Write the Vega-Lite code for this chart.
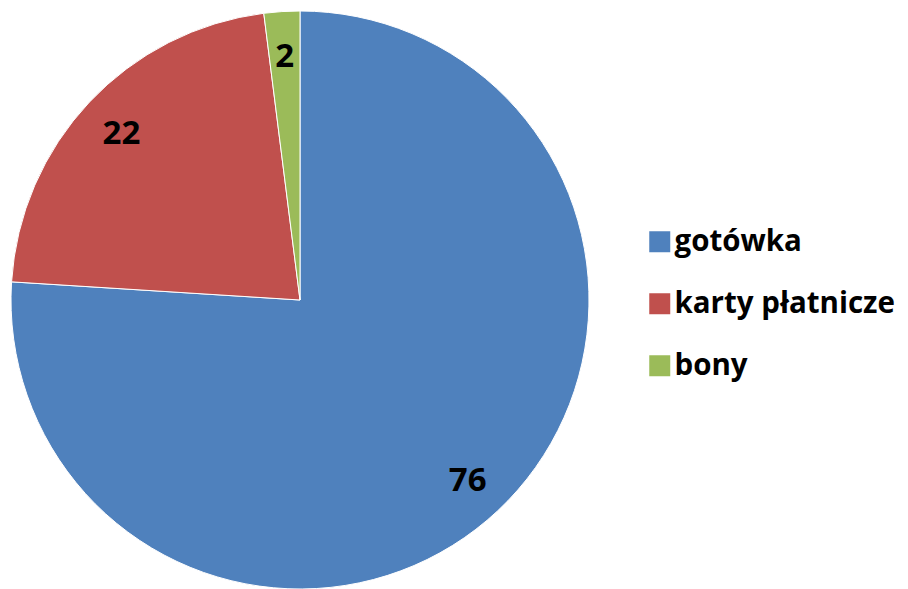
{
  "$schema": "https://vega.github.io/schema/vega-lite/v6.json",
  "width": 600,
  "height": 600,
  "padding": 0,
  "autosize": {"type": "pad"},
  "background": "white",
  "config": {"view": {"stroke": null}},
  "data": {"values": [
    {"kategoria": "gotówka", "wartosc": 76, "i": 1},
    {"kategoria": "karty płatnicze", "wartosc": 22, "i": 2},
    {"kategoria": "bony", "wartosc": 2, "i": 3}
  ]},
  "encoding": {
    "theta": {"field": "wartosc", "type": "quantitative", "stack": true},
    "order": {"field": "i", "type": "quantitative"}
  },
  "layer": [
    {
      "mark": {"type": "arc", "outerRadius": 289, "stroke": "white", "strokeWidth": 1},
      "encoding": {
        "color": {
          "field": "kategoria", "type": "nominal",
          "scale": {"domain": ["gotówka", "karty płatnicze", "bony"], "range": ["#4F81BD", "#C0504D", "#9BBB59"]},
          "legend": {
            "title": null, "orient": "none", "legendX": 645, "legendY": 227, "padding": 0,
            "symbolType": "square", "symbolSize": 441, "symbolStrokeWidth": 0,
            "labelFont": "Open Sans", "labelFontSize": 29.5, "labelFontWeight": "bold", "labelColor": "black",
            "rowPadding": 31, "labelOffset": 0, "labelLimit": 400
          }
        }
      }
    },
    {
      "mark": {"type": "text", "radius": 245, "dy": 2, "font": "Open Sans", "fontSize": 33, "fontWeight": "bold", "color": "black"},
      "encoding": {"text": {"field": "wartosc", "type": "quantitative"}}
    }
  ]
}
